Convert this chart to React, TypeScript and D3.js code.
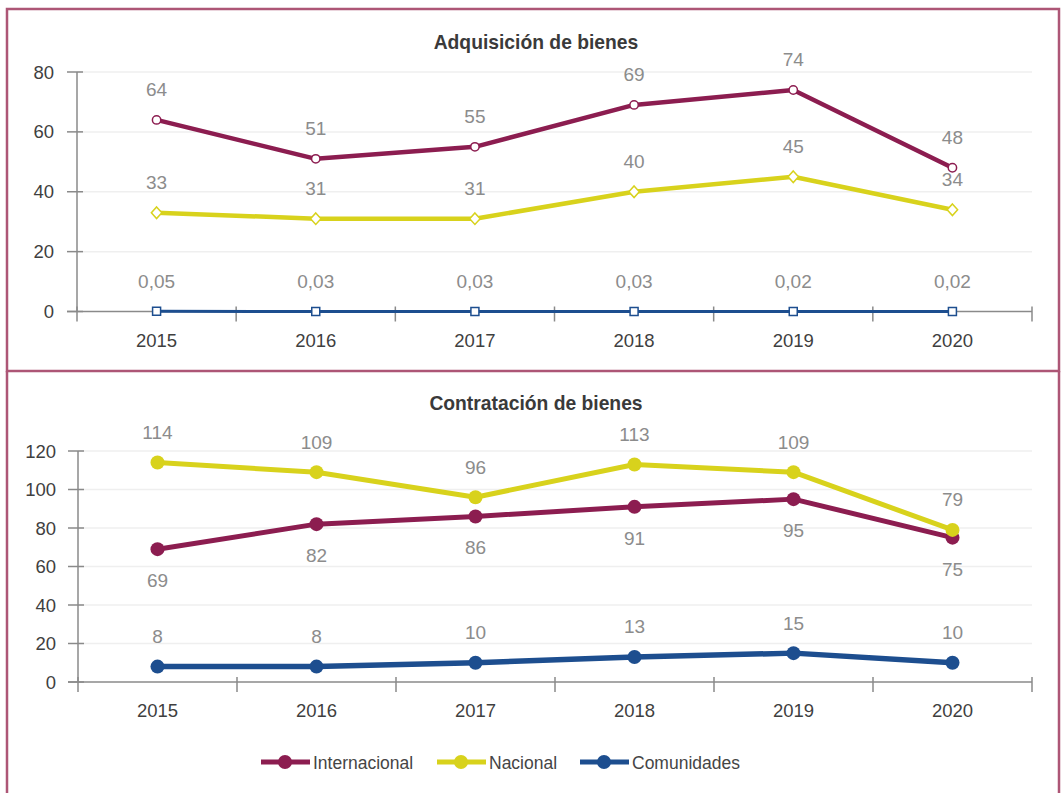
import React from "react";
import * as d3 from "d3";

const years = ["2015", "2016", "2017", "2018", "2019", "2020"];
const seriesNames = ["Internacional", "Nacional", "Comunidades"];
const seriesColors = ["#8c1d50", "#d8d21c", "#1d4e8f"];

const adqTitle = "Adquisición de bienes";
const adqInternacional = [64, 51, 55, 69, 74, 48];
const adqNacional = [33, 31, 31, 40, 45, 34];
const adqComunidades = [0.05, 0.03, 0.03, 0.03, 0.02, 0.02];
const adqTicks = [0, 20, 40, 60, 80];

const contTitle = "Contratación de bienes";
const contInternacional = [69, 82, 86, 91, 95, 75];
const contNacional = [114, 109, 96, 113, 109, 79];
const contComunidades = [8, 8, 10, 13, 15, 10];
const contTicks = [0, 20, 40, 60, 80, 100, 120];

const FONT = "'Liberation Sans', Arial, Helvetica, sans-serif";
const esLocale = d3.formatLocale({ decimal: ",", thousands: ".", grouping: [3], currency: ["", "€"] });
const fmt = (v: number) => (Number.isInteger(v) ? String(v) : esLocale.format(".2f")(v));

const wideDiamond = {
  draw(context: any, size: number) {
    const h = Math.sqrt(size) * 0.75;
    const w = h * 0.9;
    context.moveTo(0, -h);
    context.lineTo(w, 0);
    context.lineTo(0, h);
    context.lineTo(-w, 0);
    context.closePath();
  },
};

type Series = { name: string; color: string; values: number[]; labelPos: "above" | "below"; lineWidth: number };

function Panel(props: {
  title: string;
  titleY: number;
  series: Series[];
  ticks: number[];
  yRange: [number, number];
  hollow: boolean;
  labelRightX: number;
  axisX: number;
}) {
  const { title, titleY, series, ticks, yRange, hollow, labelRightX, axisX } = props;
  const x = d3.scaleBand().domain(years).range([axisX, 1032]);
  const cx = (yr: string) => (x(yr) as number) + x.bandwidth() / 2;
  const y = d3.scaleLinear().domain([0, ticks[ticks.length - 1]]).range(yRange);
  const y0 = y(0);
  const line = d3
    .line<number>()
    .x((_, i) => cx(years[i]))
    .y((d) => y(d));
  const shapes: any[] = [d3.symbolCircle, wideDiamond, d3.symbolSquare];
  const sizes = [55, 60, 64];
  const boundaries = [...years.map((yr) => x(yr) as number), 1032];
  return (
    <g>
      <text x={536} y={titleY} textAnchor="middle" fontFamily={FONT} fontWeight="bold" fontSize={19.3} fill="#3a3a3a">
        {title}
      </text>
      {ticks.slice(1).map((t) => (
        <line key={"g" + t} x1={axisX} x2={1032} y1={y(t)} y2={y(t)} stroke="#efefef" strokeWidth={1.5} />
      ))}
      <line x1={axisX} x2={axisX} y1={y(ticks[ticks.length - 1])} y2={y0} stroke="#8a8a8a" strokeWidth={1.5} />
      {ticks.map((t) => (
        <g key={"t" + t}>
          <line x1={axisX - 10} x2={axisX + 6} y1={y(t)} y2={y(t)} stroke="#8a8a8a" strokeWidth={1.5} />
          <text x={labelRightX} y={y(t) + 6.5} textAnchor="end" fontFamily={FONT} fontSize={18.5} fill="#3f3f3f">
            {t}
          </text>
        </g>
      ))}
      <line x1={axisX - 10} x2={1032} y1={y0} y2={y0} stroke="#8a8a8a" strokeWidth={1.5} />
      {boundaries.map((b, i) => (
        <line key={"b" + i} x1={b} x2={b} y1={y0 - 5} y2={y0 + 10} stroke="#8a8a8a" strokeWidth={1.5} />
      ))}
      {years.map((yr) => (
        <text key={"x" + yr} x={cx(yr)} y={y0 + 35} textAnchor="middle" fontFamily={FONT} fontSize={18.5} fill="#3f3f3f">
          {yr}
        </text>
      ))}
      {series.map((s, si) => (
        <g key={s.name}>
          <path d={line(s.values) || ""} fill="none" stroke={s.color} strokeWidth={s.lineWidth} strokeLinejoin="round" />
          {s.values.map((v, i) =>
            hollow ? (
              <path
                key={i}
                d={d3.symbol().type(shapes[si]).size(sizes[si])() || ""}
                transform={`translate(${cx(years[i])},${y(v)})`}
                fill="#ffffff"
                stroke={s.color}
                strokeWidth={1.5}
              />
            ) : (
              <circle key={i} cx={cx(years[i])} cy={y(v)} r={7} fill={s.color} />
            )
          )}
        </g>
      ))}
      {series.map((s) =>
        s.values.map((v, i) => (
          <text
            key={s.name + "l" + i}
            x={cx(years[i])}
            y={s.labelPos === "above" ? y(v) - 23.5 : y(v) + 38}
            textAnchor="middle"
            fontFamily={FONT}
            fontSize={19}
            fill="#8c8c8c"
          >
            {fmt(v)}
          </text>
        ))
      )}
    </g>
  );
}

export default function App() {
  const topSeries: Series[] = [
    { name: seriesNames[0], color: seriesColors[0], values: adqInternacional, labelPos: "above", lineWidth: 4.5 },
    { name: seriesNames[1], color: seriesColors[1], values: adqNacional, labelPos: "above", lineWidth: 4.5 },
    { name: seriesNames[2], color: seriesColors[2], values: adqComunidades, labelPos: "above", lineWidth: 3 },
  ];
  const bottomSeries: Series[] = [
    { name: seriesNames[0], color: seriesColors[0], values: contInternacional, labelPos: "below", lineWidth: 5 },
    { name: seriesNames[1], color: seriesColors[1], values: contNacional, labelPos: "above", lineWidth: 5 },
    { name: seriesNames[2], color: seriesColors[2], values: contComunidades, labelPos: "above", lineWidth: 5.5 },
  ];
  const legendX = [261, 437, 580];
  return (
    <svg width={1061} height={793} style={{ position: "absolute", left: 0, top: 0, background: "#ffffff" }}>
      <rect x={0} y={0} width={1061} height={793} fill="#ffffff" />
      <rect x={7} y={9} width={1052} height={362} fill="none" stroke="#ad5676" strokeWidth={2.5} />
      <path d="M7,371 V800 M1059,371 V800" fill="none" stroke="#ad5676" strokeWidth={2.5} />
      <Panel
        title={adqTitle}
        titleY={49}
        series={topSeries}
        ticks={adqTicks}
        yRange={[311.5, 72]}
        hollow={true}
        labelRightX={54}
        axisX={77}
      />
      <Panel
        title={contTitle}
        titleY={410}
        series={bottomSeries}
        ticks={contTicks}
        yRange={[682, 451]}
        hollow={false}
        labelRightX={56}
        axisX={78}
      />
      {seriesNames.map((n, i) => (
        <g key={"leg" + n} transform={`translate(${legendX[i]},762)`}>
          <line x1={0} x2={49} y1={0} y2={0} stroke={seriesColors[i]} strokeWidth={5} />
          <circle cx={24} cy={0} r={7} fill={seriesColors[i]} />
          <text x={52} y={6.5} fontFamily={FONT} fontSize={17.5} fill="#454545">
            {n}
          </text>
        </g>
      ))}
    </svg>
  );
}
